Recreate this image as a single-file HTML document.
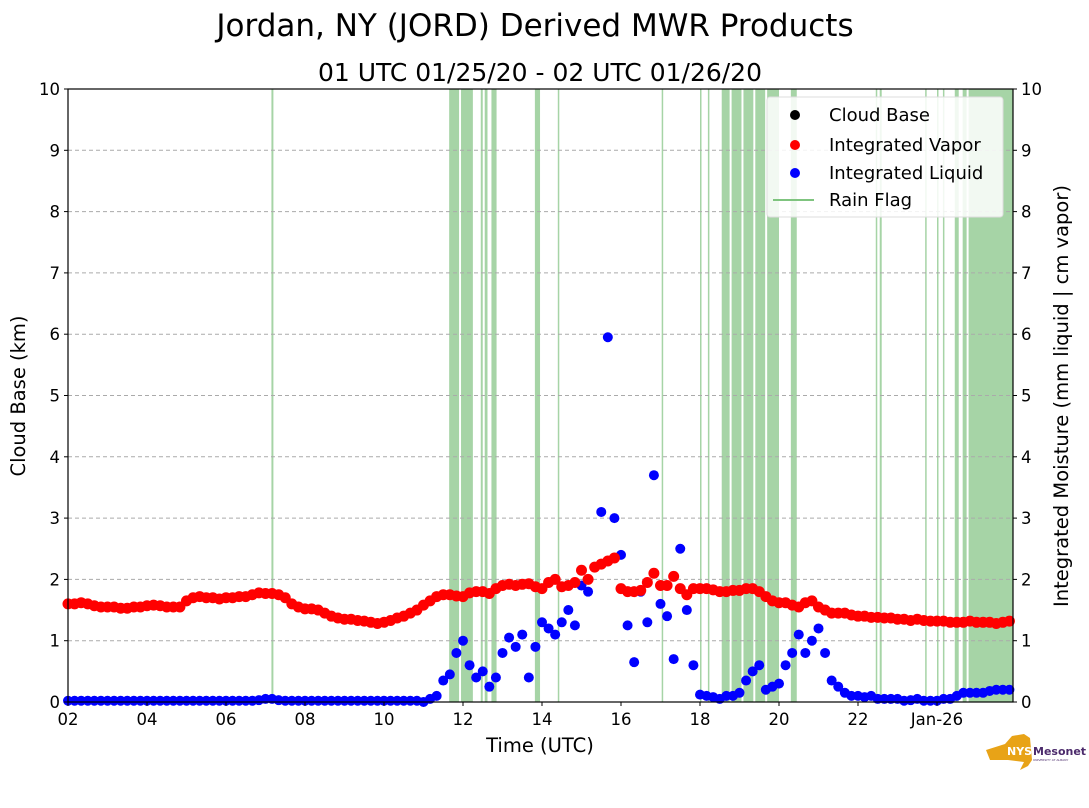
<!DOCTYPE html>
<html><head><meta charset="utf-8"><style>
body{margin:0;background:#fff;font-family:"DejaVu Sans","Liberation Sans",sans-serif;}
svg text{font-family:"DejaVu Sans","Liberation Sans",sans-serif;}
</style></head><body>
<svg id="chart" width="1089" height="804">
<text x="535" y="36" font-size="31" text-anchor="middle">Jordan, NY (JORD) Derived MWR Products</text>
<text x="540" y="81" font-size="25" text-anchor="middle">01 UTC 01/25/20 - 02 UTC 01/26/20</text>
<g id="rain"></g>
<g id="grid"></g>
<g id="liq"></g>
<g id="vap"></g>
<rect x="68" y="89" width="945" height="613" fill="none" stroke="#000" stroke-width="1.2"/>
<g id="axes" font-size="16.5"></g>
<text x="540" y="752" font-size="19.5" text-anchor="middle">Time (UTC)</text>
<text transform="translate(25,396) rotate(-90)" font-size="19.5" text-anchor="middle">Cloud Base (km)</text>
<text transform="translate(1068,396) rotate(-90)" font-size="19.5" text-anchor="middle">Integrated Moisture (mm liquid | cm vapor)</text>
<g>
<rect x="767" y="97" width="236" height="120" rx="3" fill="#fff" fill-opacity="0.85" stroke="#ddd"/>
<circle cx="795" cy="115" r="5" fill="#000"/><text x="829" y="121" font-size="18">Cloud Base</text>
<circle cx="795" cy="145" r="5" fill="red"/><text x="829" y="151" font-size="18">Integrated Vapor</text>
<circle cx="795" cy="173" r="5" fill="blue"/><text x="829" y="179" font-size="18">Integrated Liquid</text>
<line x1="773" y1="200" x2="814" y2="200" stroke="#7fc47f" stroke-width="2"/><text x="829" y="206" font-size="18">Rain Flag</text>
</g>
<g>
<path d="M986,750 L1005,744 L1012,736 L1024,734 L1030,738 L1032,760 L1028,766 L1020,770 L1024,762 L1008,760 L990,760 Z" fill="#e8a317"/>
<text x="1007" y="755" font-size="11" font-weight="bold" fill="#fff">NYS</text>
<text x="1033" y="755" font-size="11" font-weight="bold" fill="#4b2a6b">Mesonet</text>
<text x="1033" y="761" font-size="3" fill="#4b2a6b">UNIVERSITY AT ALBANY</text>
</g>
</svg>
<script>
const rainStarts=[7.15,11.65,11.95,12.45,12.55,12.72,13.82,14.4,17.03,18.0,18.2,18.55,18.8,19.1,19.4,19.7,20.3,22.45,22.55,23.7,24.0,24.15,24.45,24.65,24.8];
const rainEnds=[7.2,11.9,12.25,12.5,12.62,12.85,13.95,14.43,17.06,18.03,18.23,18.75,19.05,19.35,19.65,20.0,20.45,22.48,22.6,23.73,24.03,24.18,24.55,24.75,25.92];
const xTickLabels=["02","04","06","08","10","12","14","16","18","20","22","Jan-26"];
const xTickHours=[2,4,6,8,10,12,14,16,18,20,22,24];
const yTicks=[0,1,2,3,4,5,6,7,8,9,10];
const tStart=2, tStep=1/6;
const vapor=[1.6,1.6,1.62,1.6,1.57,1.55,1.55,1.55,1.53,1.53,1.55,1.55,
1.57,1.58,1.57,1.55,1.55,1.55,1.65,1.7,1.72,1.7,1.7,1.68,
1.7,1.7,1.72,1.72,1.75,1.78,1.77,1.77,1.75,1.7,1.6,1.55,
1.52,1.52,1.5,1.45,1.4,1.37,1.35,1.35,1.33,1.32,1.3,1.28,
1.3,1.33,1.37,1.4,1.45,1.5,1.58,1.65,1.72,1.75,1.75,1.73,
1.72,1.78,1.8,1.8,1.77,1.85,1.9,1.92,1.9,1.92,1.93,1.88,
1.85,1.95,2.0,1.88,1.9,1.95,2.15,2.0,2.2,2.25,2.3,2.35,
1.85,1.8,1.8,1.82,1.95,2.1,1.9,1.9,2.05,1.85,1.75,1.85,
1.85,1.85,1.83,1.8,1.8,1.82,1.82,1.85,1.85,1.8,1.72,1.65,
1.62,1.62,1.58,1.55,1.62,1.65,1.55,1.5,1.45,1.45,1.45,1.42,
1.4,1.4,1.38,1.38,1.37,1.37,1.35,1.35,1.33,1.35,1.33,1.32,
1.32,1.32,1.3,1.3,1.3,1.32,1.3,1.3,1.3,1.28,1.3,1.32];
const liquid=[0.02,0.02,0.02,0.02,0.02,0.02,0.02,0.02,0.02,0.02,0.02,0.02,
0.02,0.02,0.02,0.02,0.02,0.02,0.02,0.02,0.02,0.02,0.02,0.02,
0.02,0.02,0.02,0.02,0.02,0.03,0.05,0.05,0.03,0.02,0.02,0.02,
0.02,0.02,0.02,0.02,0.02,0.02,0.02,0.02,0.02,0.02,0.02,0.02,
0.02,0.02,0.02,0.02,0.02,0.02,0.0,0.05,0.1,0.35,0.45,0.8,
1.0,0.6,0.4,0.5,0.25,0.4,0.8,1.05,0.9,1.1,0.4,0.9,
1.3,1.2,1.1,1.3,1.5,1.25,1.9,1.8,2.2,3.1,5.95,3.0,
2.4,1.25,0.65,1.8,1.3,3.7,1.6,1.4,0.7,2.5,1.5,0.6,
0.12,0.1,0.08,0.05,0.1,0.1,0.15,0.35,0.5,0.6,0.2,0.25,
0.3,0.6,0.8,1.1,0.8,1.0,1.2,0.8,0.35,0.25,0.15,0.1,
0.1,0.08,0.1,0.05,0.05,0.05,0.05,0.02,0.03,0.05,0.02,0.02,
0.02,0.05,0.05,0.1,0.15,0.15,0.15,0.15,0.18,0.2,0.2,0.2];
const NS="http://www.w3.org/2000/svg";
const X0=68,X1=1013,Y0=702,Y1=89,HMIN=2,HMAX=2+945/39.5;
function xs(h){return X0+(h-HMIN)/(HMAX-HMIN)*(X1-X0);}
function ys(v){return Y0-(v/10)*(Y0-Y1);}
function mk(tag,attrs,parent){const e=document.createElementNS(NS,tag);for(const k in attrs)e.setAttribute(k,attrs[k]);parent.appendChild(e);return e;}
const rain=document.getElementById('rain');
rainStarts.forEach((s,i)=>{const a=xs(s),b=Math.min(xs(rainEnds[i]),X1);
const r=mk('rect',{x:a,y:Y1,width:Math.max(b-a,1.5),height:Y0-Y1,fill:'#9ccf9c',opacity:0.9},rain);

});
const grid=document.getElementById('grid');
yTicks.slice(1,-1).forEach(v=>{const l=mk('line',{x1:X0,x2:X1,y1:ys(v),y2:ys(v),stroke:'#aaa','stroke-dasharray':'4,3','stroke-width':1},grid);

});
const axes=document.getElementById('axes');
yTicks.forEach(v=>{const y=ys(v);
mk('line',{x1:X0-4,x2:X0,y1:y,y2:y,stroke:'#000'},axes);
mk('line',{x1:X1,x2:X1+4,y1:y,y2:y,stroke:'#000'},axes);
const t=mk('text',{x:X0-8,y:y+6,'text-anchor':'end'},axes);t.textContent=v;


const t2=mk('text',{x:X1+8,y:y+6},axes);t2.textContent=v;

});
xTickHours.forEach((h,i)=>{const x=xs(h);
mk('line',{x1:x,x2:x,y1:Y0,y2:Y0+4,stroke:'#000'},axes);
const t=mk('text',{x:x,y:Y0+23,'text-anchor':'middle'},axes);t.textContent=xTickLabels[i];

});
const liq=document.getElementById('liq'),vap=document.getElementById('vap');
liquid.forEach((v,i)=>{const c=mk('circle',{cx:xs(tStart+i*tStep),cy:ys(v),r:5,fill:'blue'},liq);

});
vapor.forEach((v,i)=>{const c=mk('circle',{cx:xs(tStart+i*tStep),cy:ys(v),r:5.5,fill:'red'},vap);

});
</script>
</body></html>
